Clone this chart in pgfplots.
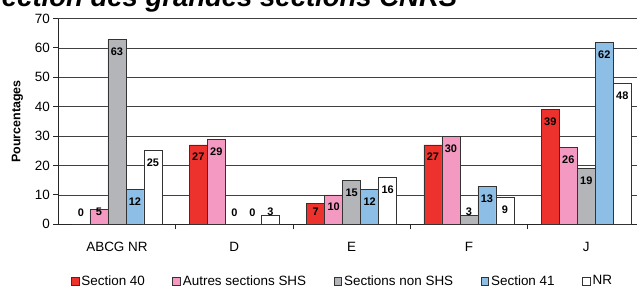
\documentclass[border=0pt]{standalone}
\usepackage{pgfplots}
\usepackage{pgfplotstable}
\pgfplotsset{compat=1.18}
\usepackage{fontspec}
\setmainfont{Liberation Sans}
\definecolor{cred}{HTML}{ED322E}
\definecolor{cpink}{HTML}{F49AC2}
\definecolor{cgrey}{HTML}{B4B5B9}
\definecolor{cblue}{HTML}{8DBEE6}
\pgfplotstableread{
x s40 aut non s41 nr
0 0 5 63 12 25
1 27 29 0 0 3
2 7 10 15 12 16
3 27 30 3 13 9
4 39 26 19 62 48
}\data
\begin{document}
\begin{tikzpicture}
\begin{axis}[
 at={(0,0)}, anchor=south west,
 scale only axis, width=586.7bp, height=205.8bp,
 xmin=-0.5, xmax=4.5, ymin=0, ymax=70,
 ybar=0pt, bar width=18bp,
 /pgf/number format/assume math mode=true,
 axis lines*=left,
 axis line style={-, black!85, line width=0.9bp},
 xtick={0,1,2,3,4}, xticklabels={ABCG NR,D,E,F,J},
 xtick pos=bottom, ytick pos=left,
 major x tick style={draw=none},
 minor xtick={0.5,1.5,2.5,3.5,4.5},
 minor x tick style={black!85, line width=0.9bp},
 minor tick length=5bp,
 major tick length=5bp,
 tick align=outside,
 ytick={0,10,...,70},
 y tick style={black!85, line width=0.9bp},
 ymajorgrids, grid style={black!75, line width=0.8bp},
 tick label style={font=\fontsize{13.5}{15}\selectfont},
 xticklabel style={anchor=base, yshift=-22bp},
 ylabel={Pourcentages},
 every axis y label/.style={at={(axis description cs:0,0.5)}, xshift=-41bp, rotate=90, anchor=center, font=\fontsize{12.5}{14}\selectfont\bfseries},
 nodes near coords,
 visualization depends on={y \as \rawy},
 nodes near coords style={font=\fontsize{11}{12}\selectfont\bfseries, anchor=north, inner sep=0pt, yshift={-8pt+max(0,8.3-\rawy)*2.94pt}, text=black},
 every axis plot post/.append style={draw=black!80, line width=0.8bp, legend image code/.code={\draw[##1, draw=black!80, line width=0.8bp] (0bp,-3.8bp) rectangle (7.6bp,3.8bp);}},
 legend style={draw=none, fill=none, legend columns=5, at={(axis description cs:0.4844,-0.2760)}, anchor=center, font=\fontsize{13.5}{15}\selectfont, /tikz/every even column/.append style={column sep=25.5bp}, inner sep=0pt},
]
\addplot[fill=cred] table[x=x,y=s40]{\data};
\addplot[fill=cpink] table[x=x,y=aut]{\data};
\addplot[fill=cgrey] table[x=x,y=non]{\data};
\addplot[fill=cblue] table[x=x,y=s41]{\data};
\addplot[fill=white] table[x=x,y=nr]{\data};
\legend{Section 40,Autres sections SHS,Sections non SHS,Section 41,NR}
\end{axis}
\node[anchor=base east, font=\fontsize{27.6}{30}\selectfont\bfseries\itshape] at (402.5bp,217.3bp) {Répartition selon la direction des grandes sections CNRS};
\pgfresetboundingbox
\path[use as bounding box] (-58.3bp,-63.7bp) rectangle (578.7bp,224.3bp);
\end{tikzpicture}
\end{document}
